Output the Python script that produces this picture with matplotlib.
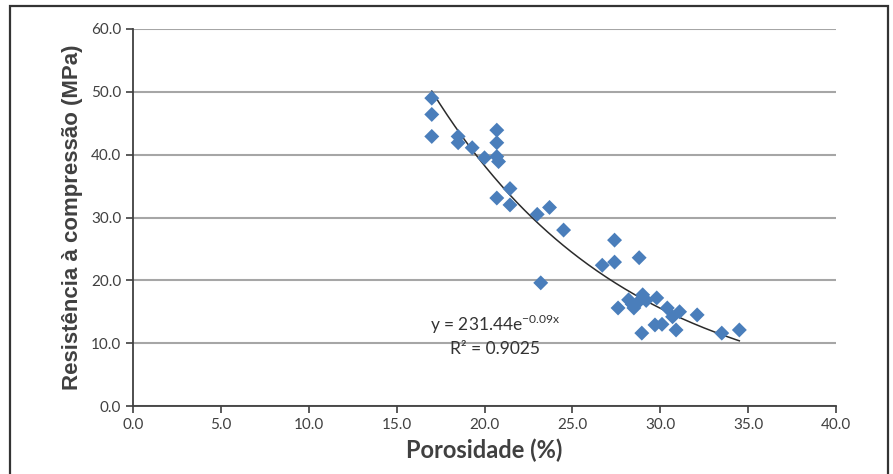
import numpy as np
import matplotlib.pyplot as plt
from matplotlib.patches import Rectangle

# porosidade (%) x resistencia (MPa)
porosidade = [17.0, 17.0, 17.0, 18.5, 18.5, 19.3, 20.0, 20.7, 20.7, 20.7, 20.8,
              20.7, 21.45, 21.45, 23.0, 23.7, 24.5, 23.2, 26.7, 27.4, 27.4, 28.8,
              27.6, 28.2, 28.5, 28.7, 29.0, 29.8, 28.95, 29.7, 30.1, 30.4, 30.7,
              30.9, 31.1, 32.1, 33.5, 34.5, 28.4, 29.2]
resistencia = [49.0, 46.4, 42.9, 42.9, 41.9, 41.1, 39.5, 43.9, 41.9, 39.7, 38.9,
               33.1, 34.6, 32.0, 30.5, 31.6, 28.0, 19.6, 22.4, 26.4, 22.9, 23.6,
               15.6, 16.9, 15.6, 16.4, 17.7, 17.2, 11.6, 12.9, 13.0, 15.6, 14.2,
               12.1, 15.0, 14.5, 11.6, 12.1, 16.2, 16.8]

x_ticks = [0, 5, 10, 15, 20, 25, 30, 35, 40]
y_ticks = [0, 10, 20, 30, 40, 50, 60]

# linha de tendencia exponencial do Excel
a_fit, b_fit = 231.44, -0.09

fig = plt.figure(figsize=(8.93, 4.74), dpi=100)
ax = fig.add_axes([133 / 893, 1 - 406 / 474, (836 - 133) / 893, (406 - 29) / 474])

txt = '#404040'
ax.set_xlim(0, 40)
ax.set_ylim(0, 60)
ax.set_xticks(x_ticks)
ax.set_yticks(y_ticks)
ax.set_xticklabels([f'{v:.1f}' for v in x_ticks])
ax.set_yticklabels([f'{v:.1f}' for v in y_ticks])
ax.yaxis.grid(True, color='#a6a6a6', linewidth=1.5)
ax.set_axisbelow(True)
for s in ['top', 'right']:
    ax.spines[s].set_visible(False)
for s in ['left', 'bottom']:
    ax.spines[s].set_color('#404040')
    ax.spines[s].set_linewidth(1.3)
ax.tick_params(direction='out', length=5, width=1.2, color='#404040',
               labelsize=11, labelcolor=txt)
for lab in ax.get_xticklabels() + ax.get_yticklabels():
    lab.set_family('Lato')

xs = np.linspace(min(porosidade), max(porosidade), 200)
ax.plot(xs, a_fit * np.exp(b_fit * xs), color='#2b2b2b', linewidth=1.1, zorder=3)
ax.scatter(porosidade, resistencia, marker='D', s=58, color='#4a7ebb',
           edgecolors='none', zorder=4)

ax.text(20.6, 13.0, r'y = 231.44e$^{\mathregular{-0.09x}}$', ha='center', va='center',
        fontsize=12.5, color='#333333', family='Lato')
ax.text(20.6, 9.0, 'R² = 0.9025', ha='center', va='center',
        fontsize=12.5, color='#333333', family='Lato')

ax.set_xlabel('Porosidade (%)', fontsize=17, fontweight='bold', color=txt,
              family='Lato', labelpad=5)
ax.set_ylabel('Resistência à compressão (MPa)', fontsize=16, fontweight='bold',
              color=txt, family='Liberation Sans', labelpad=6)

# moldura externa
fig.patches.append(Rectangle((10 / 893, -0.05), 878 / 893, 1.05 - 6 / 474,
                             transform=fig.transFigure, fill=False,
                             edgecolor='#333333', linewidth=1.6))

fig.savefig('out.png', dpi=100)
